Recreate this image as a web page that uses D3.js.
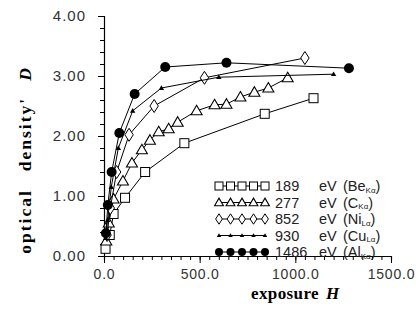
<!DOCTYPE html>
<html>
<head>
<meta charset="utf-8">
<script src="https://cdn.jsdelivr.net/npm/d3@7"></script>
<style>
  body { margin: 0; background: #fff; }
  svg { display: block; }
</style>
</head>
<body>
<div id="chart"></div>
<script>
// exposure H / optical density D
const beX = [8, 30, 50, 110, 215, 420, 840, 1095];
const beY = [0.12, 0.35, 0.70, 0.97, 1.40, 1.88, 2.37, 2.63];

const cX = [12, 25, 50, 99, 146, 198, 240, 286, 338, 385, 484, 578, 640, 713, 786, 859, 960];
const cY = [0.25, 0.55, 0.95, 1.25, 1.55, 1.77, 1.93, 2.07, 2.12, 2.23, 2.42, 2.52, 2.53, 2.65, 2.73, 2.80, 2.97];

const niX = [16, 33, 66, 131, 262, 525, 1050];
const niY = [0.35, 0.80, 1.40, 2.02, 2.50, 2.97, 3.30];

const cuX = [9, 19, 38, 75, 150, 300, 600, 1200];
const cuY = [0.30, 0.60, 1.15, 1.80, 2.42, 2.80, 2.98, 3.03];

const alX = [10, 20, 40, 80, 160, 320, 640, 1280];
const alY = [0.38, 0.85, 1.40, 2.05, 2.70, 3.15, 3.22, 3.13];

const seriesNames = ["189", "277", "852", "930", "1486"];
const seriesLines = ["Be", "C", "Ni", "Cu", "Al"];
const seriesSubs = ["Kα", "Kα", "Lα", "Lα", "Kα"];

const xTicks = [0, 500, 1000, 1500];
const yTicks = [0, 1, 2, 3, 4];

const width = 416, height = 320;
const margin = { left: 104, right: 25, top: 16, bottom: 64 };

const svg = d3.select("#chart").append("svg")
  .attr("width", width)
  .attr("height", height);

const x = d3.scaleLinear().domain([0, 1500]).range([margin.left, width - margin.right]);
const y = d3.scaleLinear().domain([0, 4]).range([height - margin.bottom, margin.top]);

const tickFont = "'Liberation Sans', Arial, sans-serif";
const titleFont = "'Liberation Serif', 'Times New Roman', serif";

// y axis: minor every 0.2, majors labelled
svg.append("g")
  .attr("transform", `translate(${margin.left},0)`)
  .call(d3.axisLeft(y).tickValues(d3.range(0, 4.01, 0.2)).tickSize(4).tickFormat(""))
  .call(g => g.select(".domain").attr("stroke-width", 1.2));
svg.append("g")
  .attr("transform", `translate(${margin.left},0)`)
  .call(d3.axisLeft(y).tickValues(yTicks).tickSize(6).tickPadding(12).tickFormat(d3.format(".2f")))
  .call(g => g.select(".domain").remove())
  .call(g => g.selectAll("text")
    .attr("font-family", tickFont)
    .attr("font-size", 15)
    .attr("letter-spacing", 1)
    .attr("fill", "#333"));

// x axis: minor every 50
svg.append("g")
  .attr("transform", `translate(0,${y(0)})`)
  .call(d3.axisBottom(x).tickValues(d3.range(0, 1501, 50)).tickSize(4).tickFormat(""))
  .call(g => g.select(".domain").attr("stroke-width", 1.2));
svg.append("g")
  .attr("transform", `translate(0,${y(0)})`)
  .call(d3.axisBottom(x).tickValues(xTicks).tickSize(7).tickPadding(6).tickFormat(d3.format(".1f")))
  .call(g => g.select(".domain").remove())
  .call(g => g.selectAll("text")
    .attr("font-family", tickFont)
    .attr("font-size", 14)
    .attr("letter-spacing", 0.8)
    .attr("fill", "#333"));

// axis titles
const xt = svg.append("text")
  .attr("x", x(1000))
  .attr("y", 299)
  .attr("text-anchor", "middle")
  .attr("font-family", titleFont)
  .attr("font-weight", "bold")
  .attr("font-size", 17)
  .attr("letter-spacing", 0.4);
xt.append("tspan").text("exposure");
xt.append("tspan").attr("dx", 7).attr("font-style", "italic").text("H");

const yt = svg.append("text")
  .attr("transform", `translate(31,${y(1.6)}) rotate(-90)`)
  .attr("text-anchor", "middle")
  .attr("font-family", titleFont)
  .attr("font-weight", "bold")
  .attr("font-size", 17.5)
  .attr("letter-spacing", 2);
yt.append("tspan").text("optical");
yt.append("tspan").attr("dx", 18).text("density'");
yt.append("tspan").attr("dx", 16).attr("font-style", "italic").text("D");

// markers
const drawMarker = (g, kind, s) => {
  if (kind === "Be") {
    g.append("rect").attr("x", -s / 2).attr("y", -s / 2).attr("width", s).attr("height", s)
      .attr("fill", "#fff").attr("stroke", "#000").attr("stroke-width", 1);
  } else if (kind === "C") {
    g.append("path").attr("d", `M0,${-s * 0.55}L${s * 0.55},${s * 0.4}L${-s * 0.55},${s * 0.4}Z`)
      .attr("fill", "#fff").attr("stroke", "#000").attr("stroke-width", 1.1);
  } else if (kind === "Ni") {
    g.append("path").attr("d", `M0,${-s * 0.65}L${s * 0.42},0L0,${s * 0.65}L${-s * 0.42},0Z`)
      .attr("fill", "#fff").attr("stroke", "#000").attr("stroke-width", 1);
  } else if (kind === "Cu") {
    const t = s * 0.45;
    g.append("path").attr("d", `M0,${-t}L${t},${t * 0.7}L${-t},${t * 0.7}Z`)
      .attr("fill", "#000");
  } else {
    g.append("circle").attr("r", s * 0.5).attr("fill", "#000");
  }
};

const series = [
  { kind: "Be", xs: beX, ys: beY, size: 9 },
  { kind: "C", xs: cX, ys: cY, size: 10 },
  { kind: "Ni", xs: niX, ys: niY, size: 10 },
  { kind: "Cu", xs: cuX, ys: cuY, size: 6 },
  { kind: "Al", xs: alX, ys: alY, size: 10 }
];

const line = d3.line().x(d => x(d[0])).y(d => y(d[1]));

series.forEach(s => {
  const pts = s.xs.map((v, i) => [v, s.ys[i]]);
  svg.append("path")
    .datum(pts)
    .attr("d", line)
    .attr("fill", "none")
    .attr("stroke", "#000")
    .attr("stroke-width", 1);
  svg.append("g").selectAll("g")
    .data(pts)
    .join("g")
    .attr("transform", d => `translate(${x(d[0])},${y(d[1])})`)
    .each(function() { drawMarker(d3.select(this), s.kind, s.size); });
});

// legend
const legend = svg.append("g").attr("transform", "translate(219,186)");
series.forEach((s, i) => {
  const row = legend.append("g").attr("transform", `translate(0,${i * 16.5})`);
  row.append("line").attr("x1", 0).attr("x2", 46).attr("stroke", "#000").attr("stroke-width", 1);
  d3.range(5).forEach(k => {
    const m = row.append("g").attr("transform", `translate(${k * 11.5},0)`);
    drawMarker(m, s.kind, s.kind === "Cu" ? 5 : 8);
  });
  const txt = (xp, str, size, dy) => row.append("text")
    .attr("x", xp)
    .attr("y", 5 + (dy || 0))
    .attr("font-family", tickFont)
    .attr("font-size", size)
    .attr("fill", "#222")
    .text(str);
  txt(56, seriesNames[i], 14.5);
  txt(100, "eV", 14.5);
  const paren = txt(124, "(" + seriesLines[i], 14.5);
  const w = paren.node().getComputedTextLength();
  const sub = txt(124 + w, seriesSubs[i], 8, 1.5);
  const w2 = sub.node().getComputedTextLength();
  txt(124 + w + w2, ")", 14.5);
});
</script>
</body>
</html>
